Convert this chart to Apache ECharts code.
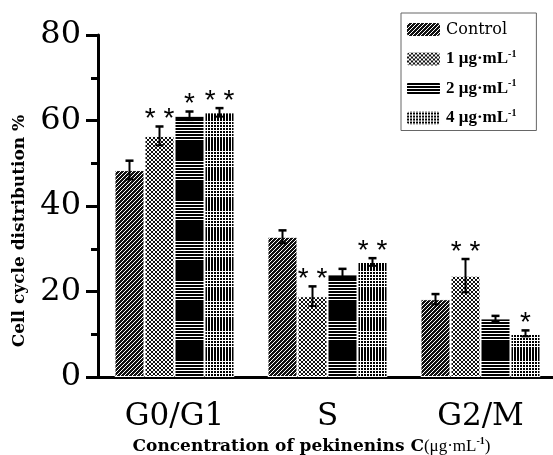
<!DOCTYPE html>
<html>
<head>
<meta charset="utf-8">
<script src="https://cdn.jsdelivr.net/npm/echarts@6/dist/echarts.min.js"></script>
<style>
html,body{margin:0;padding:0;background:#fff;}
#main{width:553px;height:455px;}
</style>
</head>
<body>
<div id="main"></div>
<script>
var categories = ['G0/G1', 'S', 'G2/M'];
var seriesNames = ['Control', '1 μg·mL', '2 μg·mL', '4 μg·mL'];

var controlVals = [48.4, 32.8, 18.2];
var controlErr = [2.2, 1.5, 1.2];
var dose1Vals = [56.4, 18.9, 23.7];
var dose1Err = [2.2, 2.3, 3.9];
var dose2Vals = [61.1, 24.0, 13.7];
var dose2Err = [1.0, 1.3, 0.6];
var dose4Vals = [61.9, 26.9, 10.2];
var dose4Err = [1.0, 0.9, 0.7];

var controlMarks = ['', '', ''];
var dose1Marks = ['* *', '* *', '* *'];
var dose2Marks = ['*', '', ''];
var dose4Marks = ['* *', '* *', '*'];

var yTicks = [0, 20, 40, 60, 80];

var SERIF = '"Liberation Serif", "Times New Roman", serif';
var WIDE = '"DejaVu Serif", serif';

function makePattern(w, h, draw){
  var c = document.createElement('canvas');
  c.width = w; c.height = h;
  var ctx = c.getContext('2d');
  draw(ctx, w, h);
  return {image: c, repeat: 'repeat'};
}

// diagonal hatching
var patControl = makePattern(4, 4, function(ctx){
  ctx.fillStyle = '#111'; ctx.fillRect(0,0,4,4);
  ctx.strokeStyle = '#fff'; ctx.lineWidth = 1;
  ctx.beginPath();
  ctx.moveTo(0,4); ctx.lineTo(4,0);
  ctx.moveTo(-2,2); ctx.lineTo(2,-2);
  ctx.moveTo(2,6); ctx.lineTo(6,2);
  ctx.stroke();
});
// cross hatch
var patDose1 = makePattern(4, 4, function(ctx){
  ctx.fillStyle = '#fff'; ctx.fillRect(0,0,4,4);
  ctx.fillStyle = '#111';
  for (var i = 0; i < 4; i++) {
    ctx.fillRect(i, i, 1, 1);
    ctx.fillRect(3 - i, i, 1, 1);
  }
});
// horizontal lines with black bands
var patDose2 = makePattern(4, 40, function(ctx){
  ctx.fillStyle = '#000'; ctx.fillRect(0,0,4,40);
  ctx.fillStyle = '#fff';
  for (var y = 1; y < 22; y += 3) ctx.fillRect(0, y, 4, 1);
});
// grid
var patDose4 = makePattern(3, 30, function(ctx){
  ctx.fillStyle = '#000'; ctx.fillRect(0,0,3,30);
  ctx.fillStyle = '#fff';
  ctx.fillRect(0, 0, 1, 30);
  for (var y = 1; y < 18; y += 3) ctx.fillRect(0, y, 3, 1);
});

var patterns = [patControl, patDose1, patDose2, patDose4];
var allVals = [controlVals, dose1Vals, dose2Vals, dose4Vals];
var allErr = [controlErr, dose1Err, dose2Err, dose4Err];
var allMarks = [controlMarks, dose1Marks, dose2Marks, dose4Marks];

var BAR_W = 30;

var series = [];
seriesNames.forEach(function(name, k){
  series.push({
    name: name,
    type: 'bar',
    barWidth: BAR_W,
    barGap: '0%',
    data: allVals[k],
    itemStyle: {color: patterns[k], borderColor: '#fff', borderWidth: 1},
    z: 2
  });
});
seriesNames.forEach(function(name, k){
  series.push({
    type: 'custom',
    z: 5,
    silent: true,
    data: allVals[k].map(function(v, i){ return [i, v, allErr[k][i]]; }),
    renderItem: function(params, api){
      var i = api.value(0), v = api.value(1), e = api.value(2);
      var off = (k - 1.5) * BAR_W;
      var top = api.coord([i, v + e]);
      var bot = api.coord([i, v - e]);
      var x = top[0] + off;
      var style = {stroke: '#000', lineWidth: 2};
      var children = [
        {type: 'line', shape: {x1: x, y1: top[1], x2: x, y2: bot[1]}, style: style},
        {type: 'line', shape: {x1: x - 4, y1: top[1], x2: x + 4, y2: top[1]}, style: {stroke: '#000', lineWidth: 2.5}},
        {type: 'line', shape: {x1: x - 4, y1: bot[1], x2: x + 4, y2: bot[1]}, style: style}
      ];
      var mark = allMarks[k][params.dataIndex];
      if (mark) {
        children.push({
          type: 'text',
          style: {
            text: mark, x: x, y: top[1] + 7,
            fill: '#000', font: '28px "Liberation Sans", Arial, sans-serif',
            align: 'center', verticalAlign: 'bottom'
          }
        });
      }
      return {type: 'group', children: children};
    }
  });
});

var chart = echarts.init(document.getElementById('main'));
chart.setOption({
  animation: false,
  backgroundColor: '#fff',
  grid: {left: 98, top: 35, width: 459, bottom: 78, containLabel: false, outerBoundsMode: 'none'},
  legend: {
    data: seriesNames,
    orient: 'vertical',
    left: 401, top: 13,
    padding: [8, 20, 4, 4],
    borderColor: '#666', borderWidth: 1,
    itemWidth: 35, itemHeight: 15, itemGap: 11,
    selectedMode: false,
    formatter: function(name){
      if (name === 'Control') return '{n|Control}';
      return '{b|' + name + '}{s|-1}';
    },
    textStyle: {
      fontFamily: SERIF, color: '#000',
      rich: {
        n: {fontFamily: WIDE, fontSize: 16, color: '#000'},
        b: {fontFamily: SERIF, fontSize: 17, fontWeight: 'bold', color: '#000'},
        s: {fontFamily: SERIF, fontSize: 10, fontWeight: 'bold', color: '#000', padding: [0, 0, 10, 0]}
      }
    }
  },
  xAxis: [{
    type: 'category',
    data: categories,
    axisLine: {lineStyle: {color: '#000', width: 3}},
    axisTick: {alignWithLabel: true, length: 10, lineStyle: {width: 3, color: '#000'}},
    axisLabel: {color: '#000', fontFamily: WIDE, fontSize: 31, margin: 24},
    name: '{b|Concentration of pekinenins C}{n|(μg·mL}{s|-1}{n|)}',
    nameLocation: 'middle',
    nameGap: 53,
    nameTextStyle: {
      padding: [0, 32, 0, 0],
      rich: {
        b: {fontFamily: WIDE, fontSize: 17, fontWeight: 'bold', color: '#000'},
        n: {fontFamily: SERIF, fontSize: 17, color: '#000'},
        s: {fontFamily: SERIF, fontSize: 10, fontWeight: 'bold', color: '#000', padding: [0, 0, 9, 0]}
      }
    }
  }, {
    type: 'category',
    data: categories,
    position: 'bottom',
    axisLine: {show: false},
    axisTick: {length: 5, lineStyle: {width: 2, color: '#000'}},
    axisLabel: {show: false}
  }],
  yAxis: {
    type: 'value',
    min: yTicks[0], max: yTicks[yTicks.length - 1], interval: 20,
    axisLine: {show: true, lineStyle: {color: '#000', width: 3}},
    axisTick: {show: true, length: 12, lineStyle: {width: 3, color: '#000'}},
    minorTick: {show: true, splitNumber: 2, length: 7, lineStyle: {width: 3, color: '#000'}},
    splitLine: {show: false},
    axisLabel: {color: '#000', fontFamily: WIDE, fontSize: 32, margin: 17},
    name: 'Cell cycle distribution %',
    nameLocation: 'middle',
    nameGap: 70,
    nameTextStyle: {fontFamily: WIDE, fontSize: 17, fontWeight: 'bold', color: '#000', padding: [0, 50, 0, 0]}
  },
  series: series
});
</script>
</body>
</html>
